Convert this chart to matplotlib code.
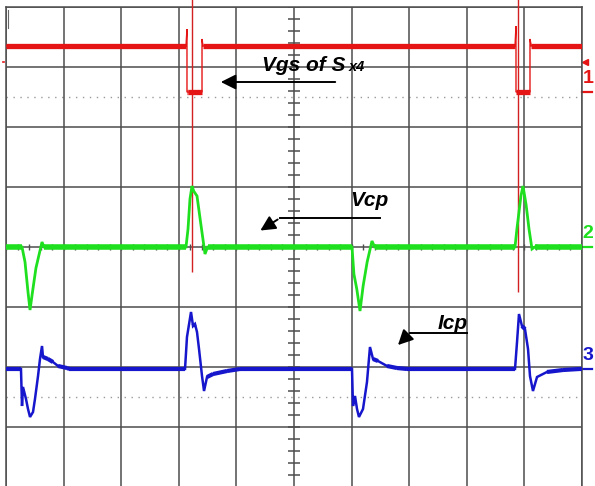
import numpy as np
import matplotlib
matplotlib.use("Agg")
import matplotlib.pyplot as plt

# screen units: x in time divisions (0..10), y in volt divisions (-4..4)
ch1_t = [0, 3.125, 3.142, 3.142, 3.160, 3.403, 3.403, 3.42, 8.837, 8.854, 8.854, 8.889, 9.097, 9.097, 9.12, 10]
ch1_v = [3.35, 3.35, 3.633, 2.583, 2.583, 2.583, 3.467, 3.35, 3.35, 3.683, 2.583, 2.583, 2.583, 3.467, 3.35, 3.35]

ch2_t = [0, 0.278, 0.33, 0.382, 0.417, 0.46, 0.52, 0.625, 0.66,
         3.125, 3.16, 3.194, 3.229, 3.26, 3.316, 3.38, 3.455, 3.5,
         6.007, 6.04, 6.09, 6.146, 6.20, 6.27, 6.354, 6.40,
         8.837, 8.87, 8.94, 8.976, 9.03, 9.08, 9.132, 9.18, 10]
ch2_v = [0, 0, -0.25, -0.75, -1.05, -0.75, -0.35, 0.083, 0,
         0, 0.3, 0.8, 1.017, 0.93, 0.85, 0.4, -0.117, 0,
         0, -0.45, -0.7, -1.067, -0.65, -0.25, 0.1, 0,
         0, 0.3, 0.85, 1.017, 0.7, 0.3, -0.033, 0, 0]

ch3_t = [0, 0.26, 0.278, 0.295, 0.347, 0.382, 0.417, 0.469, 0.503, 0.556, 0.590, 0.625, 0.642,
         0.729, 0.816, 0.903, 1.059, 1.1,
         3.108, 3.142, 3.212, 3.247, 3.281, 3.316, 3.351, 3.403, 3.438, 3.49, 3.594, 3.837, 4.063,
         6.007, 6.024, 6.059, 6.094, 6.128, 6.198, 6.267, 6.319, 6.372, 6.458, 6.615, 6.788, 6.962,
         8.837, 8.872, 8.906, 8.958, 9.01, 9.063, 9.097, 9.149, 9.219, 9.392, 9.67, 9.965, 10]
ch3_v = [-2.033, -2.033, -2.65, -2.333, -2.533, -2.7, -2.833, -2.75, -2.533, -2.15, -1.867, -1.65, -1.833,
         -1.867, -1.917, -1.983, -2.017, -2.033,
         -2.033, -1.5, -1.083, -1.317, -1.283, -1.417, -1.7, -2.15, -2.4, -2.167, -2.117, -2.067, -2.033,
         -2.033, -2.65, -2.483, -2.7, -2.833, -2.7, -2.25, -1.667, -1.867, -1.9, -1.983, -2.017, -2.033,
         -2.033, -1.583, -1.117, -1.317, -1.367, -1.7, -2.15, -2.4, -2.167, -2.083, -2.05, -2.033, -2.033]

cursor_t = [3.224, 8.889]
cursor_end = [-0.42, -0.75]

channel_names = ["1", "2", "3"]
channel_levels = [2.583, 0.0, -2.033]
channel_colors = ["#e61515", "#1fe01f", "#1616cc"]

grid_color = "#4d4d4d"


def draw_trace(ax, t, v, color, lw_edge, lw_flat, tol):
    t = np.asarray(t)
    v = np.asarray(v)
    ax.plot(t, v, color=color, lw=lw_edge, solid_joinstyle="miter", zorder=4)
    for i in range(len(t) - 1):
        if abs(v[i + 1] - v[i]) <= tol and t[i + 1] > t[i]:
            ax.plot(t[i:i + 2], v[i:i + 2], color=color, lw=lw_flat,
                    solid_capstyle="butt", zorder=4)


fig = plt.figure(figsize=(5.95, 4.86), dpi=100)
ax = fig.add_axes([6 / 595, -1 / 486, 576 / 595, 480 / 486])
ax.set_xlim(0, 10)
ax.set_ylim(-4, 4)

ax.set_xticks(np.arange(0, 11, 1))
ax.set_yticks(np.arange(-4, 5, 1))
ax.grid(True, color=grid_color, lw=1.1)
ax.tick_params(length=0, labelbottom=False, labelleft=False)
for s in ax.spines.values():
    s.set_color(grid_color)
    s.set_linewidth(1.1)

# centre graticule ticks
yt = np.arange(-4, 4.001, 0.2)
ax.hlines(yt, 4.9, 5.1, color=grid_color, lw=1.1, zorder=2)
xt = np.arange(0, 10.001, 0.2)
ax.vlines(xt, -0.05, 0.05, color=grid_color, lw=1.0, zorder=2)
# dotted reference lines
for yy in (2.5, -2.5):
    ax.axhline(yy, color="#9a9a9a", lw=1.0, ls=(0, (1, 4)), zorder=1)

# small marks at the top-left corner
ax.plot([0.04, 0.04], [3.65, 3.95], color="#666666", lw=0.8)
ax.plot([-0.06, -0.03], [3.08, 3.08], color=channel_colors[0], lw=1.2, clip_on=False)

# cursors
ax.vlines(cursor_t, cursor_end, 4.2, color="#d42020", lw=1.0, zorder=3, clip_on=False)

draw_trace(ax, ch1_t, ch1_v, channel_colors[0], 1.0, 3.8, 1e-6)
draw_trace(ax, ch2_t, ch2_v, channel_colors[1], 2.0, 4.0, 0.02)
draw_trace(ax, ch3_t, ch3_v, channel_colors[2], 1.8, 3.0, 0.06)

# channel markers on the right edge
for name, lvl, col in zip(channel_names, channel_levels, channel_colors):
    ax.plot([10.0, 10.18], [lvl, lvl], color=col, lw=1.6, clip_on=False)
    ax.text(10.1, lvl + 0.08, name, color=col, fontsize=14, fontweight="bold",
            ha="center", va="bottom", family="Liberation Sans", clip_on=False)
ax.plot([10.05], [3.08], marker="<", color=channel_colors[0], ms=5, clip_on=False)

# annotations
tf = dict(family="Liberation Sans", fontweight="bold", style="italic", color="black")
arrow = dict(arrowstyle="-|>,head_length=0.9,head_width=0.45", color="black", lw=1.4)

ax.text(4.444, 2.93, "Vgs of S", fontsize=15, **tf)
ax.text(5.95, 2.93, "x4", fontsize=10.5, **tf)
ax.annotate("", xy=(3.681, 2.75), xytext=(5.764, 2.75), arrowprops=arrow)

ax.text(5.972, 0.68, "Vcp", fontsize=15, **tf)
ax.plot([6.493, 4.757], [0.483, 0.483], color="black", lw=1.4)
ax.annotate("", xy=(4.375, 0.25), xytext=(4.757, 0.483), arrowprops=arrow)

ax.text(7.5, -1.37, "Icp", fontsize=15, **tf)
ax.plot([8.003, 7.014], [-1.433, -1.433], color="black", lw=1.4)
ax.annotate("", xy=(6.771, -1.667), xytext=(7.014, -1.433), arrowprops=arrow)

fig.savefig("out.png", dpi=100)
